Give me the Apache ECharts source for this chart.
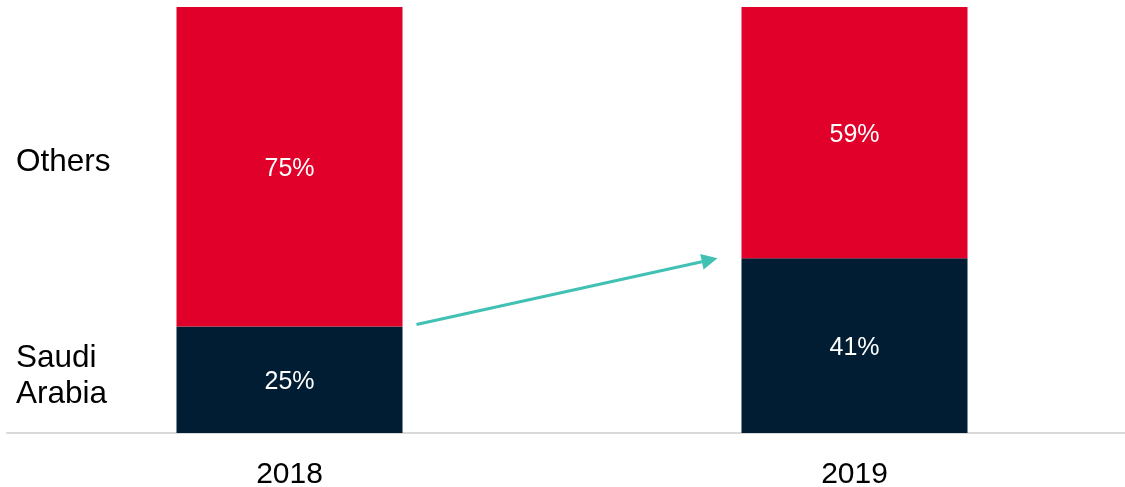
<!DOCTYPE html>
<html><head><meta charset="utf-8">
<script src="https://cdn.jsdelivr.net/npm/echarts@6/dist/echarts.min.js"></script>
<style>html,body{margin:0;padding:0;background:#fff}#c{width:1125px;height:487px}</style>
</head><body><div id="c"></div>
<script>
const categories = ['2018', '2019'];
const saudiArabia = [25, 41];
const others = [75, 59];
const seriesNames = ['Saudi Arabia', 'Others'];

const FONT = '"Liberation Sans", Arial, sans-serif';
const chart = echarts.init(document.getElementById('c'));
const option = {
  animation: false,
  textStyle: { fontFamily: FONT },
  grid: { left: 7, top: 7, width: 1130, height: 426, containLabel: false, outerBoundsMode: 'none' },
  xAxis: {
    type: 'category', data: categories,
    axisLine: { show: true, lineStyle: { color: '#d9d9d9', width: 2 } },
    axisTick: { show: false },
    axisLabel: { color: '#000', fontSize: 30, margin: 27, fontFamily: FONT }
  },
  yAxis: { type: 'value', min: 0, max: 100, show: false, splitLine: { show: false } },
  series: [
    { name: seriesNames[0], type: 'bar', stack: 's', data: saudiArabia, barWidth: 226,
      itemStyle: { color: '#001D33' },
      label: { show: true, position: 'inside', offset: [0, 2], color: '#fff', fontSize: 25, fontFamily: FONT, formatter: '{c}%' } },
    { name: seriesNames[1], type: 'bar', stack: 's', data: others, barWidth: 226,
      itemStyle: { color: '#E0002A' },
      label: { show: true, position: 'inside', offset: [0, 2], color: '#fff', fontSize: 25, fontFamily: FONT, formatter: '{c}%' } }
  ]
};
chart.setOption(option);

const p0 = chart.convertToPixel({ gridIndex: 0 }, [0, saudiArabia[0]]);
const p1 = chart.convertToPixel({ gridIndex: 0 }, [1, saudiArabia[1]]);
const half = 113;
const x1 = p0[0] + half + 14, y1 = p0[1] - 2;
const x2 = p1[0] - half - 24, y2 = p1[1];
const ang = Math.atan2(y2 - y1, x2 - x1);
const hl = 16, hw = 8;
const bx = x2 - hl * Math.cos(ang), by = y2 - hl * Math.sin(ang);
const nx = -Math.sin(ang), ny = Math.cos(ang);
const pO = chart.convertToPixel({ gridIndex: 0 }, [0, saudiArabia[0] + others[0] / 2]);
const pS = chart.convertToPixel({ gridIndex: 0 }, [0, saudiArabia[0] / 2]);
chart.setOption({
  graphic: [
    { type: 'line', shape: { x1: x1, y1: y1, x2: bx, y2: by }, style: { stroke: '#40C1B4', lineWidth: 3 } },
    { type: 'polygon', shape: { points: [[x2, y2], [bx + nx * hw, by + ny * hw], [bx - nx * hw, by - ny * hw]] }, style: { fill: '#40C1B4' } },
    { type: 'text', x: 16, y: pO[1] - 4, style: { text: 'Others', fontSize: 31.5, fontFamily: FONT, fill: '#000', verticalAlign: 'middle' } },
    { type: 'text', x: 16, y: pS[1] - 3, style: { text: 'Saudi\nArabia', fontSize: 31.5, fontFamily: FONT, lineHeight: 36, fill: '#000', verticalAlign: 'middle' } }
  ]
});
</script></body></html>
